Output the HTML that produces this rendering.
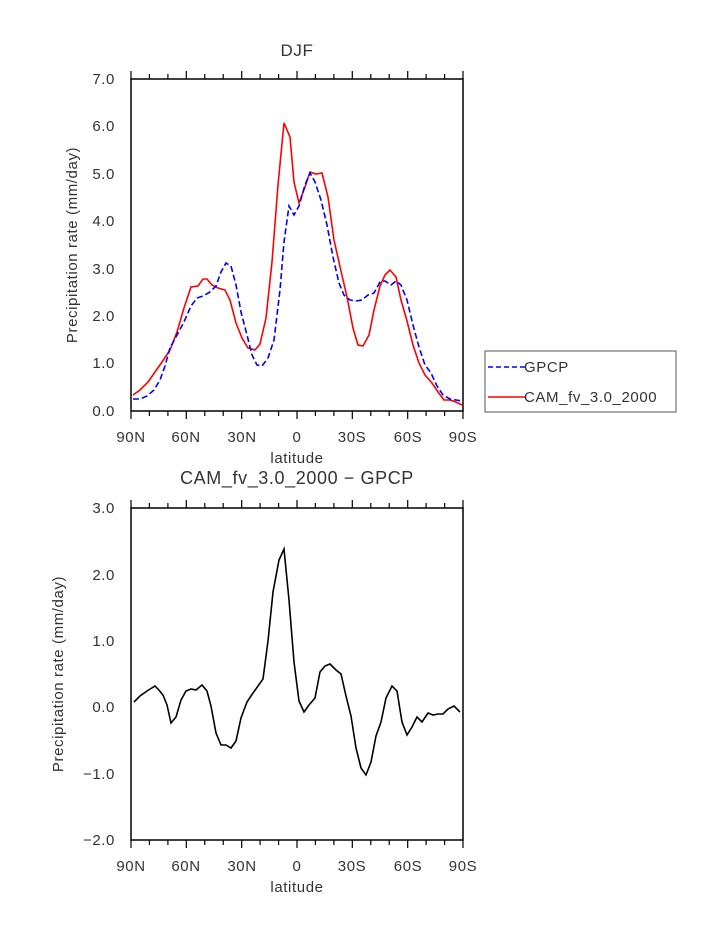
<!DOCTYPE html>
<html><head><meta charset="utf-8"><style>
html,body{margin:0;padding:0;background:#fff;}
svg text{font-family:"Liberation Sans",sans-serif;fill:#333;letter-spacing:0.6px;}
</style></head><body>
<svg width="723" height="935" viewBox="0 0 723 935" xmlns="http://www.w3.org/2000/svg">
<rect x="131" y="79" width="332" height="332" stroke="#000" stroke-width="1.5" fill="none"/>
<text x="297" y="56" font-size="17" text-anchor="middle">DJF</text>
<g font-size="15" text-anchor="end">
<text x="115" y="84">7.0</text><text x="115" y="131">6.0</text><text x="115" y="179">5.0</text><text x="115" y="226">4.0</text><text x="115" y="274">3.0</text><text x="115" y="321">2.0</text><text x="115" y="368">1.0</text><text x="115" y="416">0.0</text>
</g>
<g font-size="15" text-anchor="middle">
<text x="131" y="442">90N</text><text x="186" y="442">60N</text><text x="242" y="442">30N</text><text x="297" y="442">0</text><text x="352" y="442">30S</text><text x="408" y="442">60S</text><text x="463" y="442">90S</text>
<text x="297" y="463">latitude</text>
<text x="297" y="484" font-size="18">CAM_fv_3.0_2000 − GPCP</text>
<text x="131" y="871">90N</text><text x="186" y="871">60N</text><text x="242" y="871">30N</text><text x="297" y="871">0</text><text x="352" y="871">30S</text><text x="408" y="871">60S</text><text x="463" y="871">90S</text>
<text x="297" y="892">latitude</text>
</g>
<text transform="translate(77,245) rotate(-90)" font-size="15" text-anchor="middle">Precipitation rate (mm/day)</text>
<text transform="translate(63,674) rotate(-90)" font-size="15" text-anchor="middle">Precipitation rate (mm/day)</text>
<g font-size="15" text-anchor="end">
<text x="115" y="513">3.0</text><text x="115" y="580">2.0</text><text x="115" y="646">1.0</text><text x="115" y="712">0.0</text><text x="115" y="779">−1.0</text><text x="115" y="845">−2.0</text>
</g>
<rect x="131" y="508" width="332" height="332" stroke="#000" stroke-width="1.5" fill="none"/>
<rect x="485" y="351" width="191" height="61" stroke="#555" stroke-width="1" fill="#fff"/>
<line x1="488" y1="367" x2="525" y2="367" stroke="#00f" stroke-width="1.5" stroke-dasharray="5,3"/>
<line x1="488" y1="397" x2="525" y2="397" stroke="#f00" stroke-width="1.5"/>
<text x="524" y="372" font-size="15">GPCP</text>
<text x="524" y="402" font-size="15">CAM_fv_3.0_2000</text>
<polyline fill="none" stroke="#f00" stroke-width="1.6" points="133,395 140,390 148,382 155,372 162,362 170,350 177,332 184,308 191,287 198,286 203,279 207,279 212,285 218,288 225,290 230,300 236,323 242,338 248,348 255,350 260,344 266,318 272,262 278,185 284,123 290,137 294,182 299,203 305,187 310,172 316,174 322,173 328,197 334,240 341,271 347,297 353,328 358,345 363,346 369,335 374,310 380,286 385,275 390,270 396,277 401,300 407,321 413,345 419,363 425,375 432,383 438,392 444,400 450,400 456,402 462,405"/>
<polyline fill="none" stroke="#00f" stroke-width="1.6" stroke-dasharray="6,3" points="133,399 140,399 147,396 154,390 160,380 165,366 170,348 177,335 184,322 191,306 197,298 203,296 210,292 216,286 221,272 226,263 231,266 236,285 241,312 247,335 252,355 257,365 262,366 268,358 274,340 280,290 284,242 289,206 294,215 299,206 305,185 310,173 315,182 321,200 327,225 333,257 339,283 344,295 350,300 356,301 362,300 368,295 374,293 380,282 385,281 391,285 396,281 401,285 407,300 413,325 419,347 425,365 431,373 437,386 443,395 450,399 456,400 462,401"/>
<polyline fill="none" stroke="#000" stroke-width="1.6" points="134,702 140,696 147,691 155,686 158,689 163,695 167,705 171,723 176,717 181,700 186,691 191,689 196,690 202,685 207,691 211,706 216,733 221,745 226,745 231,748 236,741 241,718 247,702 253,693 258,686 263,679 268,641 273,592 279,560 284,549 289,600 294,662 299,701 304,712 309,705 315,698 320,672 325,666 330,664 336,670 341,674 346,696 351,716 356,748 361,768 366,775 371,762 376,736 381,722 386,698 392,686 397,691 402,722 407,735 412,727 417,717 422,722 428,713 433,715 438,714 443,714 448,709 454,706 460,712"/>
<path stroke="#000" stroke-width="1.2" fill="none" d="
M131,79v-8M186.3,79v-8M241.7,79v-8M297,79v-8M352.3,79v-8M407.7,79v-8M463,79v-8
M131,411v8M186.3,411v8M241.7,411v8M297,411v8M352.3,411v8M407.7,411v8M463,411v8
M149.4,79v-5M167.9,79v-5M204.8,79v-5M223.2,79v-5M260.1,79v-5M278.6,79v-5M315.4,79v-5M333.9,79v-5M370.8,79v-5M389.2,79v-5M426.1,79v-5M444.6,79v-5
M149.4,411v5M167.9,411v5M204.8,411v5M223.2,411v5M260.1,411v5M278.6,411v5M315.4,411v5M333.9,411v5M370.8,411v5M389.2,411v5M426.1,411v5M444.6,411v5
M131,508v-8M186.3,508v-8M241.7,508v-8M297,508v-8M352.3,508v-8M407.7,508v-8M463,508v-8
M131,840v8M186.3,840v8M241.7,840v8M297,840v8M352.3,840v8M407.7,840v8M463,840v8
M149.4,508v-5M167.9,508v-5M204.8,508v-5M223.2,508v-5M260.1,508v-5M278.6,508v-5M315.4,508v-5M333.9,508v-5M370.8,508v-5M389.2,508v-5M426.1,508v-5M444.6,508v-5
M149.4,840v5M167.9,840v5M204.8,840v5M223.2,840v5M260.1,840v5M278.6,840v5M315.4,840v5M333.9,840v5M370.8,840v5M389.2,840v5M426.1,840v5M444.6,840v5
"/>
<path id="yt" stroke="#000" stroke-width="1.2" fill="none"></path>
<script>
(function(){
var d="";
function ax(top,bot,n,sub){
 var step=(bot-top)/n;
 for(var i=0;i<=n;i++){var y=top+i*step;d+="M131,"+y+"h-8M463,"+y+"h8";
  if(i<n){for(var j=1;j<sub;j++){var yy=y+j*step/sub;d+="M131,"+yy+"h-5M463,"+yy+"h5";}}}
}
ax(79,411,7,5);ax(508,840,5,5);
document.getElementById("yt").setAttribute("d",d);
})();
</script>
</svg>
</body></html>
